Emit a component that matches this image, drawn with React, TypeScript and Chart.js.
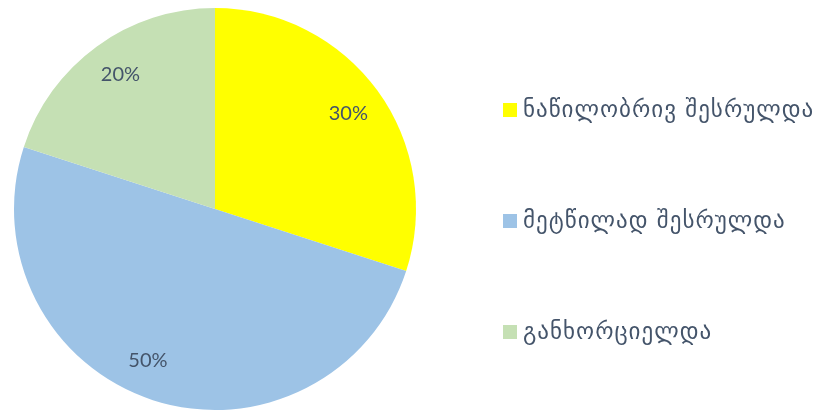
import React, { useEffect, useRef } from "react";
import { Chart, registerables } from "chart.js";

Chart.register(...registerables);

const categories = ["ნაწილობრივ შესრულდა", "მეტწილად შესრულდა", "განხორციელდა"];
const values = [30, 50, 20];
const valueLabels = ["30%", "50%", "20%"];
const colors = ["#FFFF00", "#9DC3E6", "#C5E0B4"];

const TEXT_COLOR = "#44546A";
const LABEL_ANGLE_NUDGE = [0, 6, 1]; // degrees, small placement tweak like Excel's best fit

const sliceLabels = {
  id: "sliceLabels",
  afterDatasetsDraw(chart: any) {
    const ctx = chart.ctx;
    const meta = chart.getDatasetMeta(0);
    ctx.save();
    ctx.font = "normal 400 20px Lato";
    ctx.fillStyle = TEXT_COLOR;
    ctx.textAlign = "center";
    ctx.textBaseline = "middle";
    meta.data.forEach((arc: any, i: number) => {
      const p = arc.getProps(["x", "y", "startAngle", "endAngle", "outerRadius"], true);
      const mid = (p.startAngle + p.endAngle) / 2 + (LABEL_ANGLE_NUDGE[i] * Math.PI) / 180;
      const d = p.outerRadius * 0.82;
      ctx.fillText(valueLabels[i], p.x + Math.cos(mid) * d, p.y + Math.sin(mid) * d + 1);
    });
    ctx.restore();
  },
};

const sideLegend = {
  id: "sideLegend",
  afterDraw(chart: any) {
    const ctx = chart.ctx;
    const boxX = 503;
    const box = 14;
    const firstY = 110;
    const step = 111;
    ctx.save();
    ctx.font = "normal 400 23px 'DejaVu Sans'";
    (ctx as any).letterSpacing = "1px";
    ctx.textAlign = "left";
    ctx.textBaseline = "middle";
    chart.data.labels.forEach((label: string, i: number) => {
      const cy = firstY + i * step;
      ctx.fillStyle = colors[i];
      ctx.fillRect(boxX, cy - box / 2, box, box);
      ctx.fillStyle = TEXT_COLOR;
      ctx.fillText(label, boxX + box + 6, cy + 1);
    });
    ctx.restore();
  },
};

export default function App() {
  const ref = useRef<HTMLCanvasElement | null>(null);
  useEffect(() => {
    if (!ref.current) return;
    const chart = new Chart(ref.current, {
      type: "pie",
      data: {
        labels: categories,
        datasets: [
          {
            data: values,
            backgroundColor: colors,
            borderWidth: 0,
          },
        ],
      },
      options: {
        animation: false,
        responsive: false,
        maintainAspectRatio: false,
        layout: { padding: { left: 14, right: 409, top: 8, bottom: 1 } },
        plugins: {
          legend: { display: false },
          tooltip: { enabled: false },
          title: { display: false },
        },
      },
      plugins: [sliceLabels, sideLegend],
    });
    return () => chart.destroy();
  }, []);
  return (
    <div style={{ position: "fixed", left: 0, top: 0, width: 825, height: 411, background: "#fff" }}>
      <canvas ref={ref} width={825} height={411} style={{ display: "block" }} />
    </div>
  );
}
